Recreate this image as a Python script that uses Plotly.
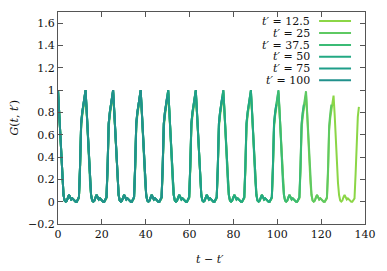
import math
import plotly.graph_objects as go

# sampling step along t - t' (25 samples per drive period of 4*pi)
DT = 4 * math.pi / 25

labels = ["12.5", "25", "37.5", "50", "75", "100"]
colors = ["#8bd646", "#5ec962", "#3bbb75", "#23a983", "#1f9e89", "#21918c"]

g_125 = [
    1.00,0.82,0.60,0.38,0.18,0.06,0.01,0.00,0.01,0.04,0.06,0.04,0.02,0.03,0.02,0.01,0.00,0.00,0.02,0.03,0.28,0.66,0.77,0.85,0.92,
    0.97,0.80,0.58,0.37,0.18,0.06,0.01,0.00,0.01,0.04,0.06,0.04,0.02,0.03,0.02,0.01,0.00,0.00,0.02,0.03,0.28,0.66,0.77,0.85,0.92,
    0.97,0.80,0.58,0.37,0.18,0.06,0.01,0.00,0.01,0.04,0.06,0.04,0.02,0.03,0.02,0.01,0.00,0.00,0.02,0.03,0.28,0.66,0.77,0.85,0.92,
    0.97,0.80,0.58,0.37,0.18,0.06,0.01,0.00,0.01,0.04,0.06,0.04,0.02,0.03,0.02,0.01,0.00,0.00,0.02,0.03,0.28,0.66,0.77,0.85,0.92,
    0.97,0.80,0.58,0.37,0.18,0.06,0.01,0.00,0.01,0.04,0.06,0.04,0.02,0.03,0.02,0.01,0.00,0.00,0.02,0.03,0.28,0.66,0.77,0.85,0.92,
    0.97,0.80,0.58,0.37,0.18,0.06,0.01,0.00,0.01,0.04,0.06,0.04,0.02,0.03,0.02,0.01,0.00,0.00,0.02,0.03,0.28,0.66,0.77,0.85,0.92,
    0.97,0.80,0.58,0.37,0.18,0.06,0.01,0.00,0.01,0.04,0.06,0.04,0.02,0.03,0.02,0.01,0.00,0.00,0.02,0.03,0.28,0.66,0.77,0.85,0.92,
    0.97,0.80,0.58,0.37,0.18,0.06,0.01,0.00,0.01,0.04,0.06,0.04,0.02,0.03,0.02,0.01,0.00,0.00,0.02,0.03,0.28,0.66,0.77,0.85,0.92,
    0.97,0.80,0.58,0.37,0.18,0.06,0.01,0.00,0.01,0.04,0.06,0.04,0.02,0.03,0.02,0.01,0.00,0.00,0.02,0.03,0.27,0.65,0.76,0.84,0.91,
    0.96,0.79,0.57,0.36,0.17,0.06,0.01,0.00,0.01,0.04,0.06,0.04,0.02,0.03,0.02,0.01,0.00,0.00,0.02,0.03,0.26,0.64,0.75,0.83,0.90,
    0.95,0.78,0.56,0.35,0.17,0.06,0.01,0.00,0.01,0.04,0.06,0.04,0.02,0.03,0.02,0.01,0.00,0.00,0.02,0.03,0.25,0.63,0.76,0.85,
]
g_25 = [
    1.00,0.82,0.60,0.38,0.18,0.06,0.01,0.00,0.01,0.04,0.06,0.04,0.02,0.03,0.02,0.01,0.00,0.00,0.02,0.04,0.31,0.69,0.79,0.86,0.93,
    0.99,0.81,0.59,0.37,0.18,0.06,0.01,0.00,0.01,0.04,0.06,0.04,0.02,0.03,0.02,0.01,0.00,0.00,0.02,0.04,0.31,0.69,0.79,0.86,0.93,
    0.99,0.81,0.59,0.37,0.18,0.06,0.01,0.00,0.01,0.04,0.06,0.04,0.02,0.03,0.02,0.01,0.00,0.00,0.02,0.04,0.31,0.69,0.79,0.86,0.93,
    0.99,0.81,0.59,0.37,0.18,0.06,0.01,0.00,0.01,0.04,0.06,0.04,0.02,0.03,0.02,0.01,0.00,0.00,0.02,0.04,0.31,0.69,0.79,0.86,0.93,
    0.99,0.81,0.59,0.37,0.18,0.06,0.01,0.00,0.01,0.04,0.06,0.04,0.02,0.03,0.02,0.01,0.00,0.00,0.02,0.04,0.31,0.69,0.79,0.86,0.93,
    0.99,0.81,0.59,0.37,0.18,0.06,0.01,0.00,0.01,0.04,0.06,0.04,0.02,0.03,0.02,0.01,0.00,0.00,0.02,0.04,0.31,0.69,0.79,0.86,0.93,
    0.99,0.81,0.59,0.37,0.18,0.06,0.01,0.00,0.01,0.04,0.06,0.04,0.02,0.03,0.02,0.01,0.00,0.00,0.02,0.04,0.31,0.69,0.79,0.86,0.93,
    0.99,0.81,0.59,0.37,0.18,0.06,0.01,0.00,0.01,0.04,0.06,0.04,0.02,0.03,0.02,0.01,0.00,0.00,0.02,0.04,0.31,0.69,0.79,0.86,0.93,
    0.99,0.81,0.59,0.37,0.18,0.06,0.01,0.00,0.01,0.04,0.06,0.04,0.02,0.03,0.02,0.01,0.00,0.00,0.02,0.04,0.31,0.69,0.79,0.86,0.93,
    0.99,0.81,0.59,0.37,0.18,0.06,0.01,0.00,0.01,0.04,0.06,0.04,0.02,0.03,0.02,0.01,0.00,0.00,0.02,0.04,0.30,0.68,0.79,0.87,
]
g_375 = [
    1.00,0.82,0.60,0.38,0.18,0.06,0.01,0.00,0.01,0.04,0.06,0.04,0.02,0.03,0.02,0.01,0.00,0.00,0.02,0.04,0.32,0.70,0.80,0.87,0.94,
    1.00,0.82,0.59,0.37,0.18,0.06,0.01,0.00,0.01,0.04,0.06,0.04,0.02,0.03,0.02,0.01,0.00,0.00,0.02,0.04,0.32,0.70,0.80,0.87,0.94,
    1.00,0.82,0.59,0.37,0.18,0.06,0.01,0.00,0.01,0.04,0.06,0.04,0.02,0.03,0.02,0.01,0.00,0.00,0.02,0.04,0.32,0.70,0.80,0.87,0.94,
    1.00,0.82,0.59,0.37,0.18,0.06,0.01,0.00,0.01,0.04,0.06,0.04,0.02,0.03,0.02,0.01,0.00,0.00,0.02,0.04,0.32,0.70,0.80,0.87,0.94,
    1.00,0.82,0.59,0.37,0.18,0.06,0.01,0.00,0.01,0.04,0.06,0.04,0.02,0.03,0.02,0.01,0.00,0.00,0.02,0.04,0.32,0.70,0.80,0.87,0.94,
    1.00,0.82,0.59,0.37,0.18,0.06,0.01,0.00,0.01,0.04,0.06,0.04,0.02,0.03,0.02,0.01,0.00,0.00,0.02,0.04,0.32,0.70,0.80,0.87,0.94,
    1.00,0.82,0.59,0.37,0.18,0.06,0.01,0.00,0.01,0.04,0.06,0.04,0.02,0.03,0.02,0.01,0.00,0.00,0.02,0.04,0.32,0.70,0.80,0.87,0.94,
    1.00,0.82,0.59,0.37,0.18,0.06,0.01,0.00,0.01,0.04,0.06,0.04,0.02,0.03,0.02,0.01,0.00,0.00,0.02,0.04,0.32,0.70,0.80,0.87,0.94,
    1.00,0.82,0.59,0.37,0.18,0.06,0.01,0.00,0.01,0.04,0.06,0.04,0.02,0.03,0.02,0.01,0.00,0.00,0.02,0.04,0.32,0.70,0.80,0.87,
]
g_50 = [
    1.00,0.82,0.60,0.38,0.18,0.06,0.01,0.00,0.01,0.04,0.06,0.04,0.02,0.03,0.02,0.01,0.00,0.00,0.02,0.04,0.32,0.70,0.80,0.87,0.94,
    1.00,0.82,0.60,0.38,0.18,0.06,0.01,0.00,0.01,0.04,0.06,0.04,0.02,0.03,0.02,0.01,0.00,0.00,0.02,0.04,0.32,0.70,0.80,0.87,0.94,
    1.00,0.82,0.60,0.38,0.18,0.06,0.01,0.00,0.01,0.04,0.06,0.04,0.02,0.03,0.02,0.01,0.00,0.00,0.02,0.04,0.32,0.70,0.80,0.87,0.94,
    1.00,0.82,0.60,0.38,0.18,0.06,0.01,0.00,0.01,0.04,0.06,0.04,0.02,0.03,0.02,0.01,0.00,0.00,0.02,0.04,0.32,0.70,0.80,0.87,0.94,
    1.00,0.82,0.60,0.38,0.18,0.06,0.01,0.00,0.01,0.04,0.06,0.04,0.02,0.03,0.02,0.01,0.00,0.00,0.02,0.04,0.32,0.70,0.80,0.87,0.94,
    1.00,0.82,0.60,0.38,0.18,0.06,0.01,0.00,0.01,0.04,0.06,0.04,0.02,0.03,0.02,0.01,0.00,0.00,0.02,0.04,0.32,0.70,0.80,0.87,0.94,
    1.00,0.82,0.60,0.38,0.18,0.06,0.01,0.00,0.01,0.04,0.06,0.04,0.02,0.03,0.02,0.01,0.00,0.00,0.02,0.04,0.32,0.70,0.80,0.87,0.94,
    1.00,0.82,0.60,0.38,0.18,0.06,0.01,0.00,0.01,0.04,0.06,0.04,0.02,0.03,0.02,0.01,0.00,0.00,0.02,0.04,0.32,0.70,0.80,0.87,
]
g_75 = [
    1.00,0.82,0.60,0.38,0.18,0.06,0.01,0.00,0.01,0.04,0.06,0.04,0.02,0.03,0.02,0.01,0.00,0.00,0.02,0.04,0.32,0.70,0.80,0.87,0.94,
    1.00,0.82,0.60,0.38,0.18,0.06,0.01,0.00,0.01,0.04,0.06,0.04,0.02,0.03,0.02,0.01,0.00,0.00,0.02,0.04,0.32,0.70,0.80,0.87,0.94,
    1.00,0.82,0.60,0.38,0.18,0.06,0.01,0.00,0.01,0.04,0.06,0.04,0.02,0.03,0.02,0.01,0.00,0.00,0.02,0.04,0.32,0.70,0.80,0.87,0.94,
    1.00,0.82,0.60,0.38,0.18,0.06,0.01,0.00,0.01,0.04,0.06,0.04,0.02,0.03,0.02,0.01,0.00,0.00,0.02,0.04,0.32,0.70,0.80,0.87,0.94,
    1.00,0.82,0.60,0.38,0.18,0.06,0.01,0.00,0.01,0.04,0.06,0.04,0.02,0.03,0.02,0.01,0.00,0.00,0.02,0.04,0.32,0.70,0.80,0.87,0.94,
    1.00,0.82,0.60,0.38,0.18,0.06,0.01,0.00,0.01,0.04,0.06,0.04,0.02,0.03,0.02,0.01,0.00,0.00,0.02,0.04,0.32,0.70,0.80,0.87,0.94,
]
g_100 = [
    1.00,0.82,0.60,0.38,0.18,0.06,0.01,0.00,0.01,0.04,0.06,0.04,0.02,0.03,0.02,0.01,0.00,0.00,0.02,0.04,0.32,0.70,0.80,0.87,0.94,
    1.00,0.82,0.60,0.38,0.18,0.06,0.01,0.00,0.01,0.04,0.06,0.04,0.02,0.03,0.02,0.01,0.00,0.00,0.02,0.04,0.32,0.70,0.80,0.87,0.94,
    1.00,0.82,0.60,0.38,0.18,0.06,0.01,0.00,0.01,0.04,0.06,0.04,0.02,0.03,0.02,0.01,0.00,0.00,0.02,0.04,0.32,0.70,0.80,0.87,0.94,
    1.00,0.82,0.60,0.38,0.18,0.06,0.01,0.00,0.01,0.04,0.06,0.04,0.02,0.03,0.02,0.01,0.00,0.00,0.02,0.04,0.32,0.70,0.80,0.87,0.94,
]

series = [g_125, g_25, g_375, g_50, g_75, g_100]

x_ticks = [0, 20, 40, 60, 80, 100, 120, 140]
y_ticks = [-0.2, 0, 0.2, 0.4, 0.6, 0.8, 1, 1.2, 1.4, 1.6]
y_tick_text = ["\u22120.2", "0", "0.2", "0.4", "0.6", "0.8", "1", "1.2", "1.4", "1.6"]

FONT = "DejaVu Serif"
FS = 11

fig = go.Figure()
for lab, col, ys in zip(labels, colors, series):
    xs = [i * DT for i in range(len(ys))]
    fig.add_trace(go.Scatter(x=xs, y=ys, mode="lines", name=lab,
                             line=dict(color=col, width=2), showlegend=False,
                             hoverinfo="skip"))

W, H = 387, 271
L, R, T, B = 57.5, 22, 12, 47
pw, ph = W - L - R, H - T - B

def px2paper(px, py):
    return (px - L) / pw, (H - B - py) / ph

# custom gnuplot-style legend: text right-aligned, line sample on the right
annotations = []
shapes = []
rows_y = [21, 33, 45, 56.8, 68.6, 80.3]
for lab, col, ry in zip(labels, colors, rows_y):
    tx, ty = px2paper(312, ry)
    annotations.append(dict(x=tx, y=ty, xref="paper", yref="paper", xanchor="right",
                            yanchor="middle", showarrow=False,
                            text="<i>t\u2032</i> = " + lab,
                            font=dict(family=FONT, size=FS, color="#111")))
    x0, y0 = px2paper(319, ry)
    x1, _ = px2paper(351, ry)
    shapes.append(dict(type="line", xref="paper", yref="paper", x0=x0, x1=x1, y0=y0, y1=y0,
                       line=dict(color=col, width=2)))

# axis titles
ax, ay = px2paper(210, 259)
annotations.append(dict(x=ax, y=ay, xref="paper", yref="paper", xanchor="center", yanchor="middle",
                        showarrow=False, text="<i>t</i> \u2212 <i>t\u2032</i>",
                        font=dict(family=FONT, size=FS, color="#111")))
bx, by = px2paper(13, 118)
annotations.append(dict(x=bx, y=by, xref="paper", yref="paper", xanchor="center", yanchor="middle",
                        showarrow=False, textangle=-90, text="<i>G</i>(<i>t</i>, <i>t\u2032</i>)",
                        font=dict(family=FONT, size=FS, color="#111")))

axis_common = dict(showgrid=False, zeroline=False, showline=True, linecolor="#555", linewidth=1,
                   mirror="ticks", ticks="inside", ticklen=5, tickcolor="#555", tickwidth=1,
                   tickfont=dict(family=FONT, size=FS, color="#111"))

fig.update_layout(
    width=W, height=H,
    margin=dict(l=L, r=R, t=T, b=B),
    paper_bgcolor="white", plot_bgcolor="white",
    xaxis=dict(range=[0, 140], tickvals=x_ticks, ticktext=[str(v) for v in x_ticks], **axis_common),
    yaxis=dict(range=[-0.2, 1.7], tickvals=y_ticks, ticktext=y_tick_text, **axis_common),
    annotations=annotations, shapes=shapes,
    showlegend=False,
)

fig.write_html("out.html", config={"displayModeBar": False},
               post_script="document.body.style.margin='0';document.body.style.padding='0';")
